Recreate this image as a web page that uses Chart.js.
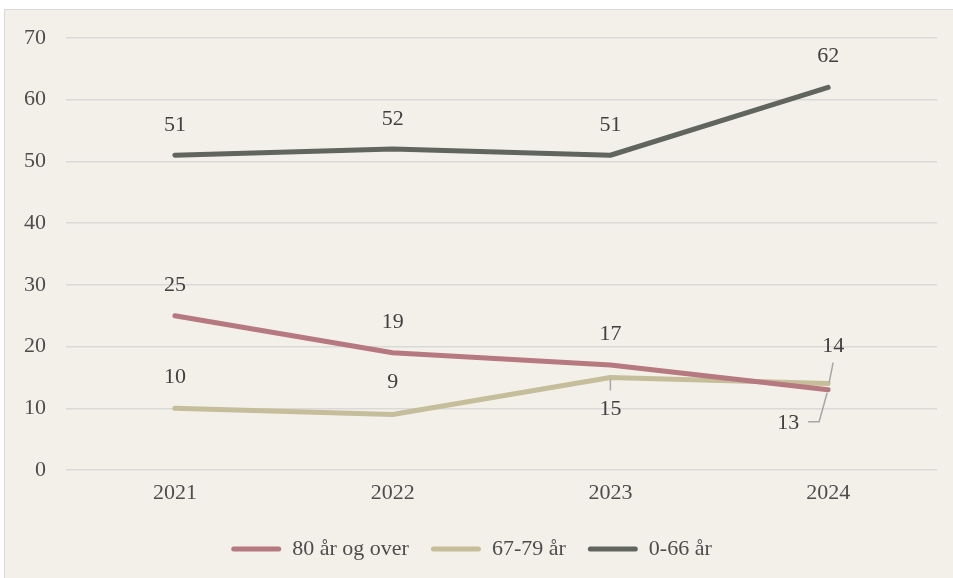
<!DOCTYPE html>
<html>
<head>
<meta charset="utf-8">
<script src="https://cdn.jsdelivr.net/npm/chart.js@4.4.1/dist/chart.umd.min.js"></script>
<style>
  body { margin: 0; background: #ffffff; }
  #frame {
    position: absolute; left: 4px; top: 9px; width: 949px; height: 569px;
    background: #f3f0ea; border-top: 1px solid #d9d9d9; border-left: 1px solid #d9d9d9;
  }
  #chart { position: absolute; left: 0; top: 0; }
</style>
</head>
<body>
<div id="frame"></div>
<canvas id="chart" width="953" height="578"></canvas>
<script>
var years = ["2021", "2022", "2023", "2024"];
var over80 = [25, 19, 17, 13];
var age67to79 = [10, 9, 15, 14];
var age0to66 = [51, 52, 51, 62];

var serif = "'Liberation Serif', 'Times New Roman', serif";

// value labels next to each point, with short leader lines where they are moved
var pointLabels = {
  id: "pointLabels",
  afterDatasetsDraw: function (chart) {
    var ctx = chart.ctx;
    ctx.save();
    ctx.font = "22px " + serif;
    ctx.textAlign = "center";
    ctx.textBaseline = "middle";
    chart.data.datasets.forEach(function (ds, i) {
      var meta = chart.getDatasetMeta(i);
      meta.data.forEach(function (pt, j) {
        var off = (ds.labelOffsets && ds.labelOffsets[j]) || [0, -30];
        var lead = ds.leaders && ds.leaders[j];
        if (lead) {
          ctx.strokeStyle = "#a6a6a6";
          ctx.lineWidth = 1.5;
          ctx.beginPath();
          lead.forEach(function (p, k) {
            if (k === 0) ctx.moveTo(pt.x + p[0], pt.y + p[1]);
            else ctx.lineTo(pt.x + p[0], pt.y + p[1]);
          });
          ctx.stroke();
        }
        ctx.fillStyle = "#404040";
        ctx.fillText(String(ds.data[j]), pt.x + off[0], pt.y + off[1]);
      });
    });
    ctx.restore();
  }
};

var ctx = document.getElementById("chart").getContext("2d");
var myChart = new Chart(ctx, {
  type: "line",
  data: {
    labels: years,
    datasets: [
      {
        label: "80 år og over",
        data: over80,
        borderColor: "#b5797f",
        backgroundColor: "#b5797f",
        labelOffsets: [[0, -30], [0, -31], [0, -31], [-40, 33]],
        leaders: [null, null, null, [[-1, 3], [-9, 32], [-20, 32]]],
      },
      {
        label: "67-79 år",
        data: age67to79,
        borderColor: "#c6bd9a",
        backgroundColor: "#c6bd9a",
        labelOffsets: [[0, -31], [0, -32], [0, 32], [5, -37]],
        leaders: [null, null, [[0, 2], [0, 13]], [[1, -1], [5, -21]]],
      },
      {
        label: "0-66 år",
        data: age0to66,
        borderColor: "#60655d",
        backgroundColor: "#60655d",
        labelOffsets: [[0, -30], [0, -30], [0, -30], [0, -31]],
      },
    ],
  },
  options: {
    responsive: false,
    animation: false,
    layout: { padding: { left: 6, right: 16, top: 38, bottom: 8 } },
    elements: {
      line: { borderWidth: 5, tension: 0, borderCapStyle: "round", borderJoinStyle: "round" },
      point: { radius: 0, hoverRadius: 0 },
    },
    scales: {
      x: {
        offset: true,
        grid: { display: false, drawTicks: false },
        border: { display: false },
        ticks: { color: "#4d4d4d", font: { family: serif, size: 22 }, padding: 10 },
        afterFit: function (scale) { scale.height = 46; },
      },
      y: {
        min: 0,
        max: 70,
        grid: { color: "#d9d9d9", lineWidth: 1.5, drawTicks: false },
        border: { display: false },
        ticks: { stepSize: 10, color: "#4d4d4d", font: { family: serif, size: 22 }, padding: 20 },
        afterFit: function (scale) { scale.width = 60; },
      },
    },
    plugins: {
      tooltip: { enabled: false },
      legend: {
        position: "bottom",
        labels: {
          color: "#4d4d4d",
          font: { family: serif, size: 22 },
          boxWidth: 50,
          boxHeight: 5,
          padding: 22,
          useBorderRadius: true,
          borderRadius: 2.5,
          generateLabels: function (chart) {
            var items = Chart.defaults.plugins.legend.labels.generateLabels(chart);
            items.forEach(function (it) { it.lineWidth = 0; });
            return items;
          },
        },
      },
    },
  },
  plugins: [pointLabels],
});
</script>
</body>
</html>
